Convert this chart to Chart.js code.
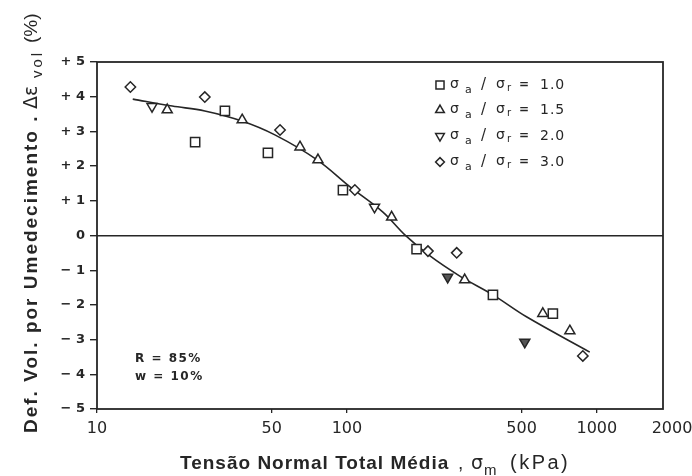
<!DOCTYPE html>
<html>
<head>
<meta charset="utf-8">
<script src="https://cdn.jsdelivr.net/npm/chart.js@4.4.1/dist/chart.umd.min.js"></script>
<style>
  html, body { margin: 0; padding: 0; background: #fff; }
  canvas { display: block; }
</style>
</head>
<body>
<canvas id="chart" width="692" height="476"></canvas>
<script>
const INK = '#262626';

// sigma_a / sigma_r = 1.0
const sqX = [24.7, 32.5, 48.3, 96.4, 190, 384, 667];
const sqY = [2.69, 3.59, 2.38, 1.31, -0.39, -1.71, -2.25];
// sigma_a / sigma_r = 1.5
const upX = [19.1, 38.1, 64.9, 76.6, 151, 296, 608, 780];
const upY = [3.62, 3.33, 2.55, 2.18, 0.53, -1.28, -2.25, -2.75];
// sigma_a / sigma_r = 2.0
const dnX = [16.6, 129, 253, 515];
const dnY = [3.72, 0.82, -1.20, -3.07];
// sigma_a / sigma_r = 3.0
const dmX = [13.6, 27.0, 54, 107.6, 211, 275, 879];
const dmY = [4.28, 3.99, 3.04, 1.31, -0.45, -0.50, -3.47];

// fitted trend
const fitX = [13.9, 20, 27, 38, 51.5, 76, 103, 139, 171, 215, 283, 384, 525, 937];
const fitY = [3.93, 3.73, 3.59, 3.30, 2.90, 2.18, 1.40, 0.68, 0.01, -0.59, -1.17, -1.71, -2.35, -3.36];

const xTicks = [10, 50, 100, 500, 1000, 2000];
const yTicks = [-5, -4, -3, -2, -1, 0, 1, 2, 3, 4, 5];
const ratios = ['1.0', '1.5', '2.0', '3.0'];
const notes = ['R = 85%', 'w = 10%'];

const X_MAX = 1840;

const pts = (xs, ys) => xs.map((x, i) => ({ x: x, y: ys[i] }));

const markers = [
  { pointStyle: 'rect', radius: 6.5, rotation: 0 },
  { pointStyle: 'triangle', radius: 5.8, rotation: 0 },
  { pointStyle: 'triangle', radius: 5.8, rotation: 180 },
  { pointStyle: 'rectRot', radius: 5.2, rotation: 0 }
];

function scatterSet(xs, ys, m, fill) {
  return {
    type: 'scatter',
    data: pts(xs, ys),
    pointStyle: m.pointStyle,
    pointRadius: m.radius,
    pointRotation: m.rotation,
    borderColor: INK,
    backgroundColor: fill || '#fff',
    borderWidth: 1.5,
    order: 1
  };
}

function txt(ctx, s, x, y, font, spacing) {
  ctx.font = font;
  ctx.letterSpacing = (spacing || 0) + 'px';
  ctx.fillText(s, x, y);
}

const decor = {
  id: 'decor',
  afterDraw(chart) {
    const { ctx, chartArea: a } = chart;
    ctx.save();
    // frame
    ctx.strokeStyle = INK;
    ctx.lineWidth = 1.8;
    ctx.strokeRect(a.left, a.top, a.right - a.left, a.bottom - a.top);

    ctx.fillStyle = INK;
    ctx.textAlign = 'left';

    // legend box
    ctx.textBaseline = 'middle';
    const rowY = [85, 110, 136, 162];
    ratios.forEach((r, i) => {
      const y = rowY[i];
      ctx.lineWidth = 1.5;
      ctx.fillStyle = '#fff';
      Chart.helpers.drawPoint(ctx, { pointStyle: markers[i].pointStyle, radius: markers[i].radius - 0.8, rotation: markers[i].rotation, borderWidth: 1.5 }, 440, y);
      ctx.fillStyle = INK;
      txt(ctx, 'σ', 450, y - 1, '14px "DejaVu Sans"');
      txt(ctx, 'a', 465, y + 5, '11px "DejaVu Sans"');
      txt(ctx, '/', 481, y, '15px "DejaVu Sans"');
      txt(ctx, 'σ', 496, y - 1, '14px "DejaVu Sans"');
      txt(ctx, 'r', 507, y + 3, '10px "DejaVu Sans"');
      txt(ctx, '=', 519, y, 'bold 12px "DejaVu Sans"');
      txt(ctx, r, 540, y, '14px "DejaVu Sans"', 1);
    });

    // test conditions
    ctx.textBaseline = 'alphabetic';
    txt(ctx, notes[0], 135, 362, 'bold 12px "DejaVu Sans"', 1.5);
    txt(ctx, notes[1], 135, 380, 'bold 12px "DejaVu Sans"', 1.5);

    // x title
    txt(ctx, 'Tensão Normal Total Média', 180, 469, 'bold 19px "Liberation Sans"', 1);
    txt(ctx, ',', 458, 469, '19px "Liberation Sans"');
    txt(ctx, 'σ', 471, 469, '19px "DejaVu Sans"');
    txt(ctx, 'm', 484, 475, '15px "Liberation Sans"', 1);
    txt(ctx, '(kPa)', 510, 469, '20px "Liberation Sans"', 2.5);

    // y title, reading upwards
    ctx.translate(37, 433);
    ctx.rotate(-Math.PI / 2);
    txt(ctx, 'Def. Vol. por Umedecimento .', 0, 0, 'bold 19px "Liberation Sans"', 2);
    txt(ctx, 'Δε', 324, 0, '19px "DejaVu Sans"');
    txt(ctx, 'vol', 355, 5, '15px "Liberation Sans"', 3);
    txt(ctx, '(%)', 390, 0, '19px "Liberation Sans"');
    ctx.restore();
  }
};

new Chart(document.getElementById('chart'), {
  data: {
    datasets: [
      {
        type: 'line',
        data: pts(fitX, fitY),
        borderColor: INK,
        borderWidth: 1.6,
        pointRadius: 0,
        fill: false,
        tension: 0.35,
        order: 5
      },
      scatterSet(sqX, sqY, markers[0]),
      scatterSet(upX, upY, markers[1]),
      scatterSet(dnX, dnY, markers[2], c => (c.raw && c.raw.y < -1 ? '#555' : '#fff')),
      scatterSet(dmX, dmY, markers[3])
    ]
  },
  options: {
    responsive: false,
    animation: false,
    events: [],
    layout: { padding: { top: 62, right: 29, bottom: 0, left: 0 } },
    plugins: { legend: { display: false }, tooltip: { enabled: false } },
    scales: {
      x: {
        type: 'logarithmic',
        min: 10,
        max: X_MAX,
        afterBuildTicks: s => { s.ticks = xTicks.map(v => ({ value: v })); },
        afterFit: s => { s.height = 67; s.paddingLeft = 0; s.paddingRight = 0; },
        border: { display: false },
        grid: {
          drawOnChartArea: false,
          tickLength: 4,
          lineWidth: 1.3,
          tickColor: c => (c.tick && c.tick.value > X_MAX ? 'rgba(0,0,0,0)' : INK)
        },
        ticks: {
          autoSkip: false,
          maxRotation: 0,
          padding: 6,
          color: INK,
          font: { family: 'DejaVu Sans', size: 16 },
          callback: v => String(v)
        }
      },
      y: {
        min: -5,
        max: 5,
        afterBuildTicks: s => { s.ticks = yTicks.map(v => ({ value: v })); },
        afterFit: s => { s.width = 97; s.paddingTop = 0; s.paddingBottom = 0; },
        border: { display: false },
        grid: {
          color: c => (c.tick && c.tick.value === 0 ? INK : 'rgba(0,0,0,0)'),
          lineWidth: 1.4,
          tickLength: 7,
          tickColor: INK
        },
        ticks: {
          padding: 5,
          color: INK,
          font: { family: 'DejaVu Sans', size: 13, weight: 'bold' },
          callback: v => (v > 0 ? '+ ' + v : v < 0 ? '− ' + (-v) : '0')
        }
      }
    }
  },
  plugins: [decor]
});
</script>
</body>
</html>
